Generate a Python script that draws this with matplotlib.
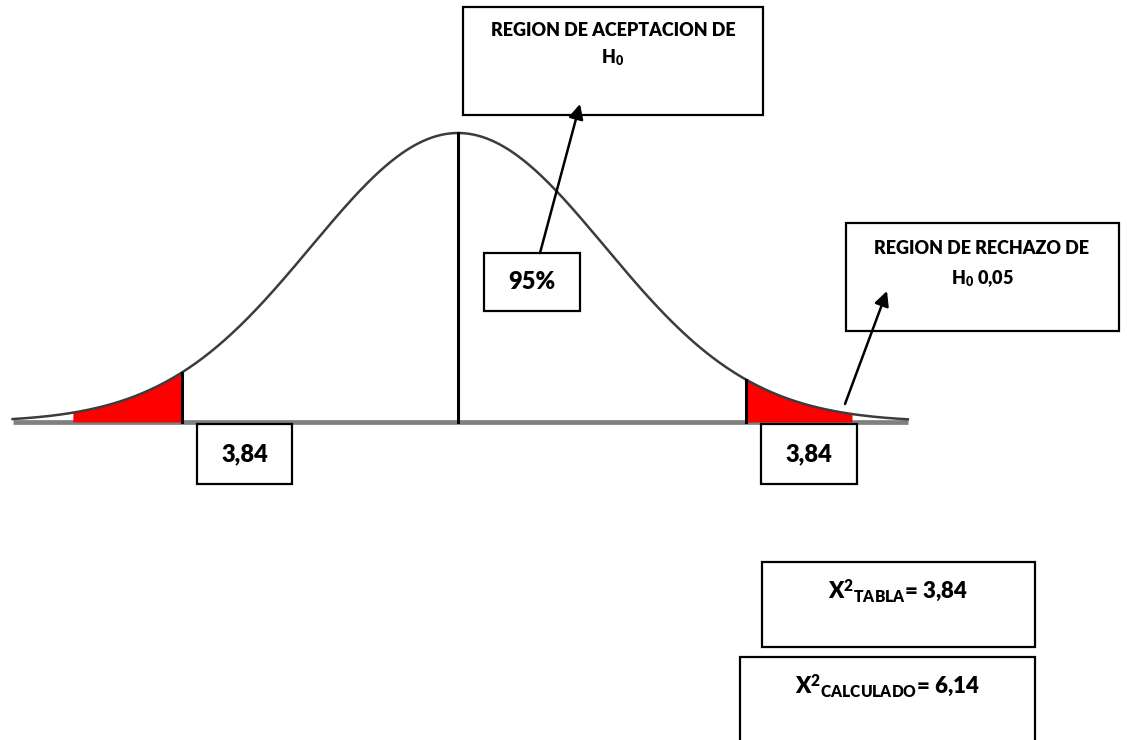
import numpy as np
import matplotlib.pyplot as plt
from matplotlib.patches import Rectangle

plt.rcParams['font.family'] = ['Lato', 'DejaVu Sans']
plt.rcParams['mathtext.fontset'] = 'custom'
plt.rcParams['mathtext.rm'] = 'Lato'
plt.rcParams['mathtext.bf'] = 'Lato:heavy'
plt.rcParams['mathtext.it'] = 'Lato:italic'

# curve in standard units (z) and the critical points
curve_range = [-3.03, 3.06]
crit_left = -1.88
crit_right = 1.96
red_left_start = -2.62
red_right_end = 2.68

crit_label = "3,84"
accept_label = "95%"
accept_title = ["REGION DE ACEPTACION DE", r"H$_{\mathbf{0}}$"]
reject_title = ["REGION DE RECHAZO DE", r"H$_{\mathbf{0}}$ 0,05"]
chi_tabla = "3,84"
chi_calc = "6,14"


def pdf(z):
    return np.exp(-z ** 2 / 2) / np.sqrt(2 * np.pi)


W, H = 1127, 740
fig = plt.figure(figsize=(W / 100, H / 100), dpi=100)

# axes in data units (z, density)
ax = fig.add_axes([0, 0, 1, 1])
sx = 147.0
sy = 289.0 / pdf(0)
x0, y0 = 458.0, 422.0
ax.set_xlim(-x0 / sx, (W - x0) / sx)
ax.set_ylim(-(H - y0) / sy, y0 / sy)
ax.axis('off')

z = np.linspace(curve_range[0], curve_range[1], 600)
ax.plot(curve_range, [0, 0], color='#808080', lw=3.4, solid_capstyle='butt', zorder=1)

zl = np.linspace(red_left_start, crit_left, 200)
ax.fill_between(zl, 0, pdf(zl), color='#ff0000', lw=0, zorder=2)
zr = np.linspace(crit_right, red_right_end, 200)
ax.fill_between(zr, 0, pdf(zr), color='#ff0000', lw=0, zorder=2)

ax.plot(z, pdf(z), color='#3c3c3c', lw=1.8, zorder=3)
for c in [crit_left, 0, crit_right]:
    ax.plot([c, c], [0, pdf(c)], color='black', lw=2.2, zorder=4)

# overlay in pixel coordinates for the boxes
ov = fig.add_axes([0, 0, 1, 1])
ov.set_xlim(0, W)
ov.set_ylim(H, 0)
ov.axis('off')
ov.patch.set_alpha(0)


def box(x1, y1, x2, y2):
    ov.add_patch(Rectangle((x1, y1), x2 - x1, y2 - y1, fill=True, fc='white',
                           ec='black', lw=1.6, zorder=5))


def label(x, y, s, size):
    ov.text(x, y, s, ha='center', va='center', fontsize=size,
            fontweight='heavy', color='black', zorder=6)


def arrow(xs, ys, xe, ye):
    ov.annotate('', xy=(xe, ye), xytext=(xs, ys),
                arrowprops=dict(arrowstyle='-|>', color='black', lw=1.8,
                                mutation_scale=22, shrinkA=0, shrinkB=0),
                zorder=7)


# critical value boxes
box(197, 424, 292, 484)
label(245, 454, crit_label, 17)
box(761, 424, 857, 484)
label(809, 454, crit_label, 17)

# acceptance region
box(463, 7, 763, 115)
label(613, 31, accept_title[0], 13)
label(613, 58, accept_title[1], 13)
box(484, 253, 580, 311)
label(532, 282, accept_label, 17)
arrow(540, 253, 580, 104)

# rejection region
box(846, 223, 1119, 331)
label(982, 248, reject_title[0], 13)
label(982, 279, reject_title[1], 13)
arrow(845, 404, 887, 291)

# chi-square results
box(762, 562, 1035, 647)
label(898, 591, r"X$^{\mathbf{2}}{}_{\mathbf{TABLA}}$= " + chi_tabla, 16)
box(740, 657, 1035, 745)
label(887, 686, r"X$^{\mathbf{2}}{}_{\mathbf{CALCULADO}}$= " + chi_calc, 16)

fig.savefig("out.png", dpi=100, facecolor='white')
